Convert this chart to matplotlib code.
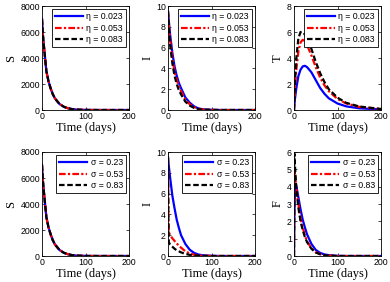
import numpy as np
import matplotlib
matplotlib.use("Agg")
import matplotlib.pyplot as plt

t = [0, 1, 2, 5, 10, 15, 20, 25, 30, 40, 50, 60, 70, 80, 100, 120, 150, 200]

# top row: varying eta
eta_labels = ["\u03b7 = 0.023", "\u03b7 = 0.053", "\u03b7 = 0.083"]
S_eta_1 = [7000, 6400, 5800, 4700, 3000, 2200, 1650, 1200, 880, 470, 250, 130, 65, 30, 8, 2, 0, 0]
S_eta_2 = [7000, 6400, 5800, 4700, 3000, 2200, 1650, 1200, 880, 470, 250, 130, 65, 30, 8, 2, 0, 0]
S_eta_3 = [7000, 6400, 5800, 4700, 3000, 2200, 1650, 1200, 880, 470, 250, 130, 65, 30, 8, 2, 0, 0]
I_eta_1 = [9.5, 9.0, 8.5, 7.2, 5.5, 4.2, 3.3, 2.6, 2.1, 1.2, 0.7, 0.35, 0.15, 0.07, 0.02, 0, 0, 0]
I_eta_2 = [9.5, 8.9, 8.2, 6.7, 5.0, 3.7, 2.9, 2.3, 1.8, 1.0, 0.55, 0.28, 0.12, 0.05, 0.01, 0, 0, 0]
I_eta_3 = [9.5, 8.7, 7.8, 6.2, 4.5, 3.3, 2.5, 1.9, 1.5, 0.8, 0.42, 0.2, 0.08, 0.03, 0.01, 0, 0, 0]
T_eta_1 = [0, 0.4, 0.8, 1.6, 2.6, 3.1, 3.35, 3.4, 3.3, 2.9, 2.3, 1.7, 1.25, 0.9, 0.5, 0.28, 0.13, 0.04]
T_eta_2 = [0, 0.8, 1.5, 3.0, 4.5, 5.2, 5.4, 5.3, 5.0, 4.2, 3.3, 2.5, 1.9, 1.45, 0.85, 0.5, 0.24, 0.07]
T_eta_3 = [0, 1.1, 2.0, 3.9, 5.5, 6.0, 6.0, 5.8, 5.5, 4.7, 3.7, 2.85, 2.15, 1.6, 0.95, 0.55, 0.27, 0.08]

# bottom row: varying sigma
sig_labels = ["\u03c3 = 0.23", "\u03c3 = 0.53", "\u03c3 = 0.83"]
S_sig_1 = [7000, 6400, 5800, 4700, 3000, 2200, 1650, 1200, 880, 470, 250, 130, 65, 30, 8, 2, 0, 0]
S_sig_2 = [7000, 6400, 5800, 4700, 3000, 2200, 1650, 1200, 880, 470, 250, 130, 65, 30, 8, 2, 0, 0]
S_sig_3 = [7000, 6400, 5800, 4700, 3000, 2200, 1650, 1200, 880, 470, 250, 130, 65, 30, 8, 2, 0, 0]
I_sig_1 = [9.5, 9.0, 8.6, 7.5, 5.8, 4.6, 3.5, 2.7, 2.0, 1.15, 0.6, 0.3, 0.14, 0.07, 0.02, 0, 0, 0]
I_sig_2 = [9.5, 4.0, 2.3, 2.0, 1.7, 1.45, 1.2, 1.0, 0.8, 0.45, 0.25, 0.12, 0.06, 0.03, 0.01, 0, 0, 0]
I_sig_3 = [9.5, 2.5, 1.3, 1.1, 0.9, 0.7, 0.55, 0.45, 0.35, 0.2, 0.11, 0.06, 0.03, 0.01, 0, 0, 0, 0]
F_sig_1 = [0, 2.5, 3.5, 4.1, 3.4, 2.7, 2.1, 1.65, 1.25, 0.7, 0.35, 0.18, 0.09, 0.05, 0.01, 0, 0, 0]
F_sig_2 = [0, 5.0, 4.8, 4.0, 3.0, 2.2, 1.65, 1.2, 0.85, 0.45, 0.22, 0.11, 0.05, 0.02, 0, 0, 0, 0]
F_sig_3 = [0, 5.9, 5.3, 4.0, 2.8, 2.0, 1.5, 1.1, 0.8, 0.42, 0.2, 0.1, 0.05, 0.02, 0, 0, 0, 0]

panels = [
    ("S", [S_eta_1, S_eta_2, S_eta_3], eta_labels, 8000, [0, 2000, 4000, 6000, 8000]),
    ("I", [I_eta_1, I_eta_2, I_eta_3], eta_labels, 10, [0, 2, 4, 6, 8, 10]),
    ("T", [T_eta_1, T_eta_2, T_eta_3], eta_labels, 8, [0, 2, 4, 6, 8]),
    ("S", [S_sig_1, S_sig_2, S_sig_3], sig_labels, 8000, [0, 2000, 4000, 6000, 8000]),
    ("I", [I_sig_1, I_sig_2, I_sig_3], sig_labels, 10, [0, 2, 4, 6, 8, 10]),
    ("F", [F_sig_1, F_sig_2, F_sig_3], sig_labels, 6, [0, 1, 2, 3, 4, 5, 6]),
]

colors = ["#0000ff", "#ff0000", "#000000"]
styles = [dict(ls="-"), dict(ls=(0, (3, 1, 1, 1))), dict(ls=(0, (2.5, 1.2)))]

W, H = 390, 282
fig = plt.figure(figsize=(W / 100, H / 100), dpi=100)

lefts = [42, 168, 294]
tops = [6, 152]
aw, ah = 87, 104

serif = "Liberation Serif"
sans = "Liberation Sans"

for k, (name, series, labels, ymax, yt) in enumerate(panels):
    r, c = divmod(k, 3)
    ax = fig.add_axes([lefts[c] / W, 1 - (tops[r] + ah) / H, aw / W, ah / H])
    for i in range(3):
        ax.plot(t, series[i], color=colors[i], lw=1.6, label=labels[i], **styles[i])
    ax.set_xlim(0, 200)
    ax.set_ylim(0, ymax)
    ax.set_xticks([0, 100, 200])
    ax.set_yticks(yt)
    ax.tick_params(direction="in", length=2, width=0.5, labelsize=6.3, pad=1.5,
                   top=True, right=True)
    for lab in ax.get_xticklabels() + ax.get_yticklabels():
        lab.set_family(sans)
    for sp in ax.spines.values():
        sp.set_linewidth(0.6)
    ax.set_xlabel("Time (days)", family=serif, fontsize=9, labelpad=1)
    ax.set_ylabel(name, family=serif, fontsize=9, labelpad=2)
    leg = ax.legend(loc="upper right", prop={"family": sans, "size": 6.3},
                    handlelength=3.2, handletextpad=0.4, borderpad=0.35,
                    labelspacing=0.3, fancybox=False, framealpha=1,
                    edgecolor="black", borderaxespad=0.35)
    leg.get_frame().set_linewidth(0.6)

fig.savefig("out.png", dpi=100)
